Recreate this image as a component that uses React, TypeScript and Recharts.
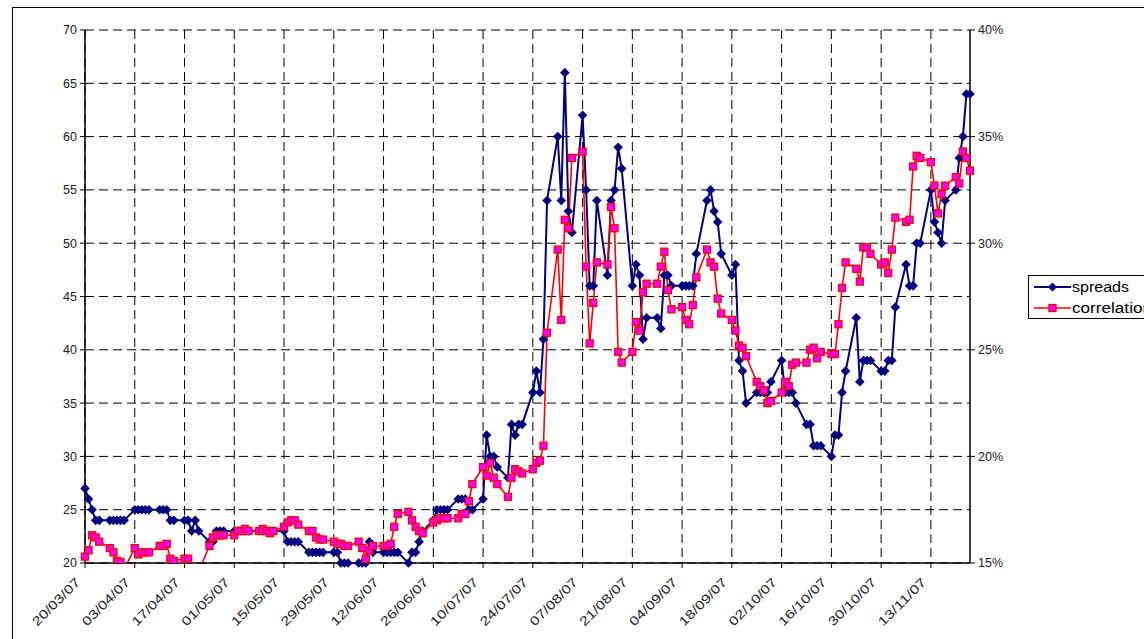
import React from 'react';
import { LineChart, Line, XAxis, YAxis, CartesianGrid } from 'recharts';

// x-axis tick labels, one every 14 days
const tickLabels = [
  '20/03/07', '03/04/07', '17/04/07', '01/05/07', '15/05/07', '29/05/07',
  '12/06/07', '26/06/07', '10/07/07', '24/07/07', '07/08/07', '21/08/07',
  '04/09/07', '18/09/07', '02/10/07', '16/10/07', '30/10/07', '13/11/07',
];
const tickDays = tickLabels.map((_, i) => i * 14);

// spreads (bp), five observations a week starting 20/03/07
const spreads = [
  27, 26, 25, 24, 24, 24, 24, 24, 24, 24, 25, 25, 25, 25, 25, 25, 25, 25, 24, 24,
  24, 24, 23, 24, 23, 22, 22, 23, 23, 23, 23, 23, 23, 23, 23, 23, 23, 23, 23, 23,
  23, 22, 22, 22, 22, 21, 21, 21, 21, 21, 21, 21, 20, 20, 20, 20, 20, 20, 22, 21,
  21, 21, 21, 21, 21, 20, 21, 21, 22, 23, 24, 25, 25, 25, 25, 26, 26, 26, 25, 25,
  26, 32, 30, 30, 29, 28, 33, 32, 33, 33, 36, 38, 36, 41, 54, 60, 54, 66, 53, 51,
  62, 55, 46, 46, 54, 47, 54, 55, 59, 57, 46, 48, 47, 41, 43, 43, 42, 47, 47, 46,
  46, 46, 46, 46, 49, 54, 55, 53, 52, 49, 47, 48, 39, 38, 35, 36, 36, 36, 36, 37,
  39, 36, 36, 36, 35, 33, 33, 31, 31, 31, 30, 32, 32, 36, 38, 43, 37, 39, 39, 39,
  38, 38, 39, 39, 44, 48, 46, 46, 50, 50, 55, 52, 51, 50, 54, 55, 58, 60, 64, 64,
];

// correlation (%), same dates
const correlation = [
  15.3, 15.6, 16.3, 16.2, 16.0, 15.7, 15.5, 15.1, 15.05, 14.7, 15.7, 15.4, 15.5, 15.5, 15.5, 15.8, 15.8, 15.9, 15.2, 15.1,
  15.2, 15.2, 14.6, 14.6, 14.6, 15.8, 16.2, 16.3, 16.3, 16.3, 16.3, 16.5, 16.5, 16.6, 16.5, 16.5, 16.6, 16.5, 16.4, 16.5,
  16.7, 16.9, 17.0, 17.0, 16.8, 16.5, 16.5, 16.2, 16.1, 16.1, 16.0, 15.9, 15.9, 15.8, 15.8, 16.0, 15.7, 15.2, 15.6, 15.8,
  15.8, 15.8, 15.9, 16.7, 17.3, 17.4, 17.0, 16.7, 16.5, 16.4, 16.9, 17.0, 17.1, 17.1, 17.1, 17.1, 17.3, 17.3, 17.9, 18.7,
  19.5, 19.1, 19.7, 19.0, 18.7, 18.1, 19.0, 19.4, 19.3, 19.2, 19.4, 19.7, 19.8, 20.5, 25.8, 29.7, 26.4, 31.1, 30.7, 34.0,
  34.3, 28.9, 25.3, 27.2, 29.1, 29.0, 31.7, 30.7, 24.9, 24.4, 24.9, 26.3, 25.9, 27.7, 28.1, 28.1, 28.9, 29.6, 27.8, 26.9,
  27.0, 26.4, 26.2, 27.1, 28.4, 29.7, 29.1, 28.9, 27.4, 26.7, 26.4, 25.9, 25.2, 25.1, 24.7, 23.5, 23.3, 23.1, 22.5, 22.6,
  23.0, 23.5, 23.3, 24.3, 24.4, 24.4, 25.0, 25.1, 24.6, 24.9, 24.8, 24.8, 26.2, 27.9, 29.1, 28.8, 28.2, 29.8, 29.8, 29.5,
  29.0, 29.1, 28.6, 29.7, 31.2, 31.0, 31.1, 33.6, 34.1, 34.0, 33.8, 32.7, 31.4, 32.3, 32.7, 33.1, 32.8, 34.3, 34.0, 33.4,
];

const leftTicks = [20, 25, 30, 35, 40, 45, 50, 55, 60, 65, 70];
const rightTicks = [15, 20, 25, 30, 35, 40];

// day offset from 20/03/07 (Tue..Sat each week)
const data = spreads.map((s, i) => ({
  day: Math.floor(i / 5) * 7 + (i % 5),
  spreads: s,
  correlation: correlation[i],
}));

const NAVY = '#000080';
const RED = '#FF0000';
const MAGENTA = '#FF00FF';
const FONT = '"Liberation Sans", Arial, sans-serif';

const Diamond = (props: any) => {
  const { cx, cy, index } = props;
  if (cx == null || cy == null) return <g key={`d-${index}`} />;
  const r = 4.8;
  return (
    <polygon
      key={`d-${index}`}
      points={`${cx},${cy - r} ${cx + r},${cy} ${cx},${cy + r} ${cx - r},${cy}`}
      fill={NAVY}
    />
  );
};

const Square = (props: any) => {
  const { cx, cy, index } = props;
  if (cx == null || cy == null) return <g key={`s-${index}`} />;
  return (
    <rect key={`s-${index}`} x={cx - 3.5} y={cy - 3.5} width={7} height={7}
      fill={MAGENTA} stroke={RED} strokeWidth={1.3} />
  );
};

const DateTick = (props: any) => {
  const { x, y, payload } = props;
  const label = tickLabels[tickDays.indexOf(payload.value)];
  return (
    <g transform={`translate(${x - 4},${y + 13})`}>
      <text x={0} y={0} textAnchor="end" transform="rotate(-45)"
        fontSize={12.5} fontFamily={FONT} fill="#222"
        textLength={62} lengthAdjust="spacingAndGlyphs">
        {label}
      </text>
    </g>
  );
};

const App = () => {
  return (
    <div style={{ position: 'absolute', left: 0, top: 0, width: 1144, height: 639, overflow: 'hidden', background: '#fff' }}>
      <div style={{ position: 'absolute', left: 12, top: 7, width: 1200, height: 700, border: '1px solid #000' }} />
      <div style={{ position: 'absolute', left: 0, top: 0 }}>
        <LineChart width={1144} height={639} data={data}
          margin={{ top: 30, right: 114, bottom: 6, left: 25 }}>
          <CartesianGrid yAxisId="left" stroke="#000" strokeDasharray="9 5"
            horizontalValues={leftTicks} verticalValues={tickDays} />
          <XAxis dataKey="day" type="number" domain={[0, 249]} ticks={tickDays}
            height={70} tickSize={5} tick={<DateTick />} interval={0}
            stroke="#000" axisLine={{ stroke: '#000', strokeWidth: 1.5 }} />
          <YAxis yAxisId="left" domain={[20, 70]} ticks={leftTicks} width={60}
            tickSize={5} tickMargin={3} stroke="#000"
            axisLine={{ stroke: '#000', strokeWidth: 1.5 }}
            tick={{ fill: '#222', fontSize: 12.5, fontFamily: FONT }} />
          <YAxis yAxisId="right" orientation="right" domain={[15, 40]} ticks={rightTicks}
            allowDataOverflow width={60} tickSize={5} tickMargin={3} stroke="#000"
            axisLine={{ stroke: '#000', strokeWidth: 1.5 }}
            tickFormatter={(v: number) => `${v}%`}
            tick={{ fill: '#222', fontSize: 12.5, fontFamily: FONT }} />
          <Line yAxisId="left" dataKey="spreads" stroke={NAVY} strokeWidth={2}
            dot={Diamond} activeDot={false} isAnimationActive={false} />
          <Line yAxisId="right" dataKey="correlation" stroke={RED} strokeWidth={1.6}
            dot={Square} activeDot={false} isAnimationActive={false} />
        </LineChart>
      </div>
      <div style={{ position: 'absolute', left: 1028, top: 275, width: 140, height: 42, border: '1px solid #000', background: '#fff' }}>
        <svg width={140} height={42} style={{ position: 'absolute', left: 0, top: 0 }}>
          <line x1={5} y1={11} x2={42} y2={11} stroke={NAVY} strokeWidth={2} />
          <polygon points="23.5,6.5 28,11 23.5,15.5 19,11" fill={NAVY} />
          <line x1={5} y1={32} x2={42} y2={32} stroke={RED} strokeWidth={1.6} />
          <rect x={20} y={28.5} width={7} height={7} fill={MAGENTA} stroke={RED} strokeWidth={1.3} />
          <text x={43} y={16} fontSize={14} fontFamily={FONT} fill="#000"
            textLength={57} lengthAdjust="spacingAndGlyphs">spreads</text>
          <text x={43} y={37} fontSize={14} fontFamily={FONT} fill="#000"
            textLength={80} lengthAdjust="spacingAndGlyphs">correlation</text>
        </svg>
      </div>
    </div>
  );
};

export default App;
